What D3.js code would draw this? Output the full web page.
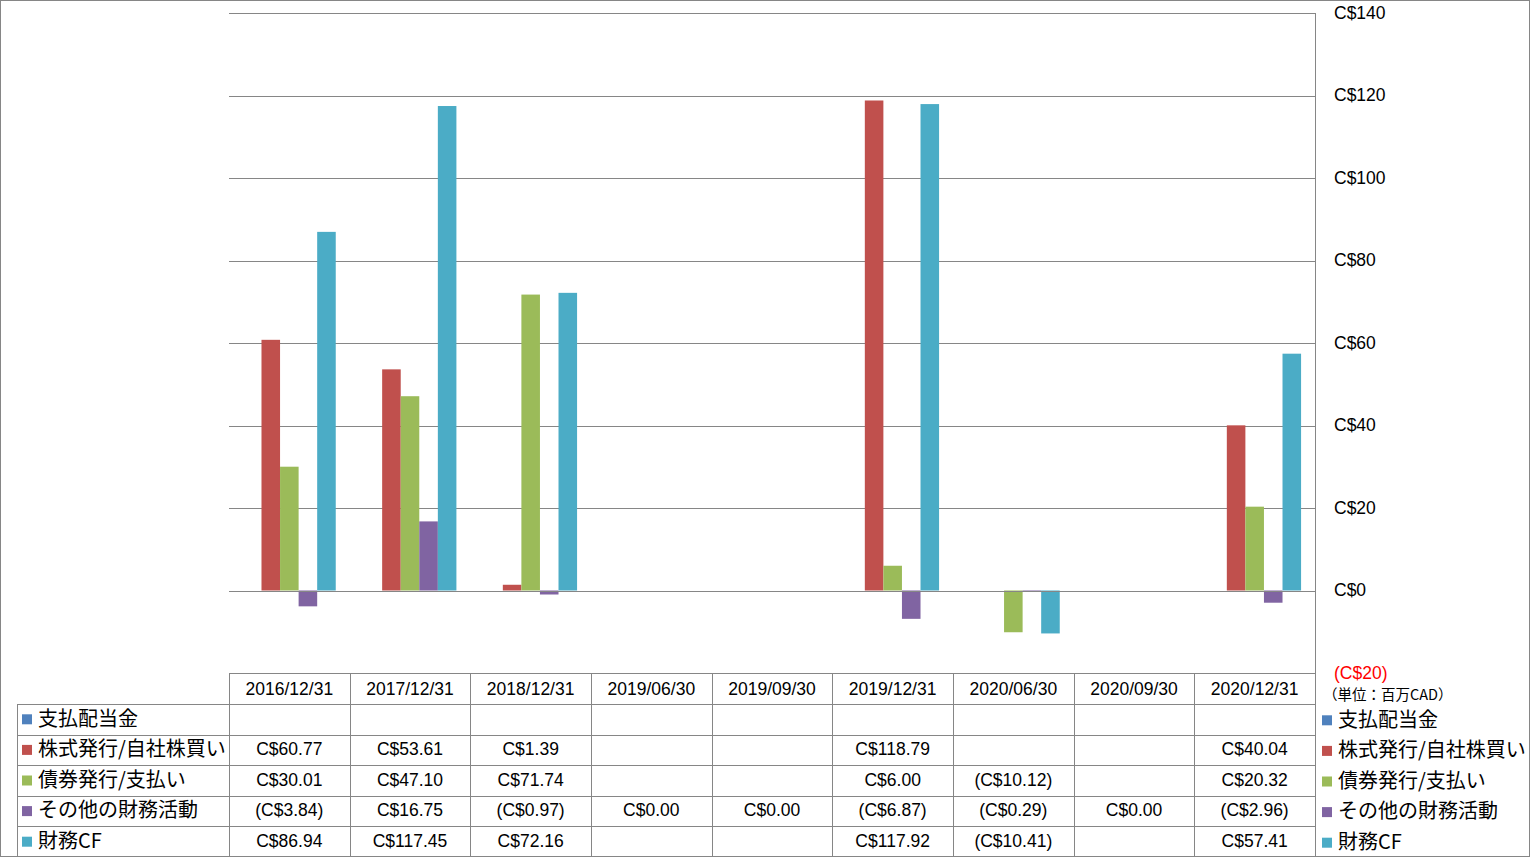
<!DOCTYPE html>
<html><head><meta charset="utf-8">
<script src="https://cdn.jsdelivr.net/npm/d3@7"></script>
<style>
html,body{margin:0;padding:0;background:#fff;}
svg{display:block;}
.num{font-family:"Liberation Sans",Arial,sans-serif;font-size:17.5px;fill:#000;}
.jp{font-family:"Noto Sans CJK JP",sans-serif;font-size:20px;fill:#000;}
</style></head>
<body>
<svg id="c" width="1531" height="858"></svg>
<script>
const categories = ["2016/12/31","2017/12/31","2018/12/31","2019/06/30","2019/09/30","2019/12/31","2020/06/30","2020/09/30","2020/12/31"];
const seriesNames = ["支払配当金","株式発行/自社株買い","債券発行/支払い","その他の財務活動","財務CF"];
const seriesColors = ["#4F81BD","#C0504D","#9BBB59","#8064A2","#4BACC6"];
const dividends   = [null,null,null,null,null,null,null,null,null];
const stockIssue  = [60.77,53.61,1.39,null,null,118.79,null,null,40.04];
const debtIssue   = [30.01,47.10,71.74,null,null,6.00,-10.12,null,20.32];
const otherFin    = [-3.84,16.75,-0.97,0,0,-6.87,-0.29,0,-2.96];
const financingCF = [86.94,117.45,72.16,null,null,117.92,-10.41,null,57.41];
const yTicks = [-20,0,20,40,60,80,100,120,140];
const unitLabel = "（単位：百万CAD）";

const seriesValues = [dividends,stockIssue,debtIssue,otherFin,financingCF];

const svg = d3.select("#c");
const W = 1531, H = 858;
const L = 229, R = 1315, T = 13, B = 673;
const gridCol = "#868686";

const x0 = d3.scaleBand().domain(categories).range([L,R]).paddingInner(0).paddingOuter(0);
const x1 = d3.scaleBand().domain(d3.range(seriesNames.length)).range([0,x0.bandwidth()]).paddingInner(0).paddingOuter(0.75);
const y = d3.scaleLinear().domain([-20,140]).range([B,T]);

// outer border
svg.append("rect").attr("x",0.5).attr("y",0.5).attr("width",W-2).attr("height",H-2)
  .attr("fill","none").attr("stroke",gridCol);

// gridlines
svg.append("g").selectAll("line").data(yTicks.filter(t=>t>-20)).join("line")
  .attr("x1",L).attr("x2",R)
  .attr("y1",d=>Math.round(y(d))+0.5).attr("y2",d=>Math.round(y(d))+0.5)
  .attr("stroke",gridCol).attr("stroke-width",1);

// right axis line
svg.append("line").attr("x1",R+0.5).attr("x2",R+0.5).attr("y1",T).attr("y2",H-1)
  .attr("stroke",gridCol);

// bars
const gBars = svg.append("g");
seriesValues.forEach((vals,si)=>{
  gBars.append("g").selectAll("rect")
    .data(categories.map((c,i)=>({c,v:vals[i]})).filter(d=>d.v!=null && d.v!==0))
    .join("rect")
    .attr("x",d=>x0(d.c)+x1(si))
    .attr("width",x1.bandwidth())
    .attr("y",d=>y(Math.max(0,d.v)))
    .attr("height",d=>Math.abs(y(d.v)-y(0)))
    .attr("fill",seriesColors[si]);
});

// zero line redraw on top
svg.append("line").attr("x1",L).attr("x2",R)
  .attr("y1",Math.round(y(0))+0.5).attr("y2",Math.round(y(0))+0.5)
  .attr("stroke",gridCol);

// y tick labels (right)
const fmtAxis = v => v<0 ? `(C$${-v})` : `C$${v}`;
svg.append("g").selectAll("text").data(yTicks).join("text")
  .attr("class","num")
  .attr("x",R+19).attr("y",d=>y(d)).attr("dy","0.33em")
  .style("fill",d=>d<0?"#FF0000":"#000")
  .text(fmtAxis);

svg.append("text").attr("x",R+8).attr("y",695).attr("dy","0.36em")
  .style("font-family","'Noto Sans CJK JP',sans-serif").style("font-size","14.5px")
  .text(unitLabel);

// data table
const headTop = B, headBot = 704;
const rowH = (H-1-headBot)/5;
const tableLeft = 17;
const gT = svg.append("g");
gT.append("line").attr("x1",L).attr("x2",R).attr("y1",headTop+0.5).attr("y2",headTop+0.5).attr("stroke",gridCol);
d3.range(5).forEach(r=>{
  const yy = Math.round(headBot + r*rowH)+0.5;
  gT.append("line").attr("x1",tableLeft).attr("x2",R).attr("y1",yy).attr("y2",yy).attr("stroke",gridCol);
});
categories.forEach((c,i)=>{
  const xx = Math.round(x0(c))+0.5;
  gT.append("line").attr("x1",xx).attr("x2",xx).attr("y1",headTop).attr("y2",H-1).attr("stroke",gridCol);
});
gT.append("line").attr("x1",tableLeft+0.5).attr("x2",tableLeft+0.5).attr("y1",headBot).attr("y2",H-1).attr("stroke",gridCol);

gT.append("g").selectAll("text").data(categories).join("text")
  .attr("class","num").attr("text-anchor","middle")
  .attr("x",d=>x0(d)+x0.bandwidth()/2).attr("y",(headTop+headBot)/2).attr("dy","0.35em")
  .text(d=>d);

const fmt = v => v==null ? "" : (v<0 ? `(C$${(-v).toFixed(2)})` : `C$${v.toFixed(2)}`);
seriesNames.forEach((name,si)=>{
  const cy = headBot + (si+0.5)*rowH;
  gT.append("rect").attr("x",22).attr("y",cy-5).attr("width",10).attr("height",10).attr("fill",seriesColors[si]);
  gT.append("text").attr("class","jp").attr("x",38).attr("y",cy-1).attr("dy","0.36em").text(name);
  gT.append("g").selectAll("text").data(categories.map((c,i)=>({c,v:seriesValues[si][i]}))).join("text")
    .attr("class","num").attr("text-anchor","middle")
    .attr("x",d=>x0(d.c)+x0.bandwidth()/2).attr("y",cy-1).attr("dy","0.35em")
    .text(d=>fmt(d.v));
  gT.append("rect").attr("x",R+7).attr("y",cy-4).attr("width",10).attr("height",10).attr("fill",seriesColors[si]);
  gT.append("text").attr("class","jp").attr("x",R+23).attr("y",cy).attr("dy","0.36em").text(name);
});
</script>
</body></html>
